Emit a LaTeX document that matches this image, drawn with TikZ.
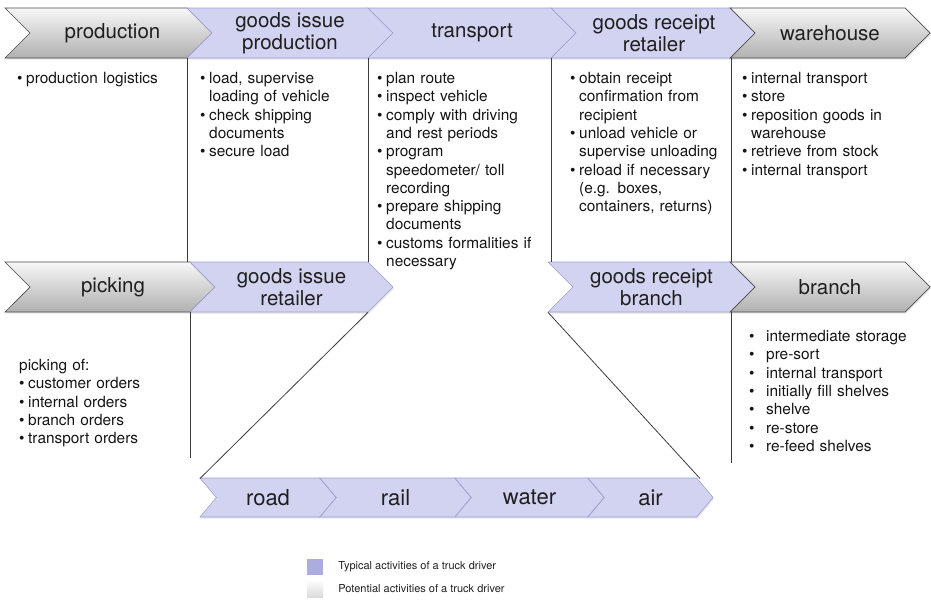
\documentclass[tikz,border=0pt]{standalone}
\usepackage{fontspec}
\setmainfont{TeX Gyre Heros}
\usetikzlibrary{shapes.symbols,positioning,shadows}

\definecolor{typfill}{RGB}{210,210,241}
\definecolor{typline}{RGB}{160,160,212}
\definecolor{typkey}{RGB}{172,172,226}
\definecolor{sepline}{RGB}{60,60,60}

\newcommand{\bul}{\par\noindent\hangindent=9pt\hangafter=1\makebox[9pt][l]{\textbullet}}
\newcommand{\wbul}{\par\noindent\hangindent=17pt\hangafter=1\makebox[17pt][l]{\textbullet}}
\newcommand{\nl}{\hfil\break}

\begin{document}
\begin{tikzpicture}[x=1pt, y=-1pt,
    chev/.style={signal, signal from=west, signal to=east, signal pointer angle=90, minimum height=50pt, inner sep=0pt, align=center, font=\fontsize{20.5}{22}\selectfont, text=black!88, drop shadow={opacity=0.2, shadow xshift=1pt, shadow yshift=-1.5pt}},
    typical/.style={chev, fill=typfill, draw=typline, line width=0.6pt},
    potential/.style={chev, top color=gray!6, bottom color=gray!62, draw=gray!60!black, line width=0.7pt},
    mode/.style={typical, signal pointer angle=100, minimum height=39pt, font=\fontsize{22}{24}\selectfont},
    tasks/.style={anchor=north west, inner sep=0pt, text width=185pt, align=left, font=\fontsize{15.4}{18.3}\selectfont, text=black!92},
    sep/.style={draw=sepline, line width=0.8pt},
    legkey/.style={minimum size=16pt, inner sep=0pt},
    legtext/.style={font=\fontsize{11}{13}\selectfont, inner sep=0pt, text=black!88},
]
\useasboundingbox (0,0) rectangle (931,605);

% ====== Top row ======
\node[potential, minimum width=207pt] (prod) at (108.5,33) {\hspace*{8pt}production};
\node[typical, minimum width=206pt] (gip) at (290,33) {goods issue\\production};
\node[typical, minimum width=208pt] (trans) at (472,33) {transport};
\node[typical, minimum width=206pt] (grr) at (654,33) {goods receipt\\retailer};
\node[potential, minimum width=200pt] (wh) at (830,33) {warehouse};

% ====== Second row ======
\node[potential, minimum width=210pt] (pick) at (110,287) {\hspace*{6pt}picking};
\node[typical, minimum width=203pt] (gir) at (291.5,287) {goods issue\\retailer};
\node[typical, minimum width=207pt] (grb) at (651.5,287) {goods receipt\\branch};
\node[potential, minimum width=200pt] (branch) at (830,287) {branch};

% ====== Transport modes ======
\node[mode, minimum width=136pt] (road) at (268,497.5) {road};
\node[mode, minimum width=151pt] (rail) at (395.5,497.5) {rail};
\node[mode, minimum width=149pt] (water) at (529.5,497.5) {water};
\node[mode, minimum width=125pt] (air) at (650.5,497.5) {air};

% ====== Separators ======
\coordinate (b1) at (187,0);
\coordinate (b2) at (368,0);
\coordinate (b3) at (551,0);
\coordinate (b4) at (731,0);
\coordinate (b6) at (548,0);
\coordinate (pend) at (190,458);
\coordinate (bend) at (731,463);
\coordinate (roadtl) at (200,478.5);
\coordinate (airtr) at (700,478.5);

\foreach \b in {b1,b2,b3,b4}
  \draw[sep] (\b |- prod.south) -- (\b |- pick.north);
\draw[sep] (pick.south -| pend) -- (pend);
\draw[sep] (branch.south -| bend) -- (bend);
\draw[sep] (gir.south -| b2) -- (roadtl);
\draw[sep] (grb.south -| b6) -- (airtr);

% ====== Activities ======
\node[tasks] (tprod) at (17,65) {\bul production logistics\par};
\node[tasks] (tgip) at (200,65) {\bul load, supervise\nl loading of vehicle
  \bul check shipping\nl documents
  \bul secure load\par};
\node[tasks] (ttrans) at (377,65) {\bul plan route
  \bul inspect vehicle
  \bul comply with driving\nl and rest periods
  \bul program\nl speedometer/ toll\nl recording
  \bul prepare shipping\nl documents
  \bul customs formalities if\nl necessary\par};
\node[tasks] (tgrr) at (570,65) {\bul obtain receipt\nl confirmation from\nl recipient
  \bul unload vehicle or\nl supervise unloading
  \bul reload if necessary\nl (e.g. boxes,\nl containers, returns)\par};
\node[tasks] (twh) at (742,65) {\bul internal transport
  \bul store
  \bul reposition goods in\nl warehouse
  \bul retrieve from stock
  \bul internal transport\par};
\node[tasks] (tpick) at (19,359) {picking of:
  \bul customer orders
  \bul internal orders
  \bul branch orders
  \bul transport orders\par};
\node[tasks] (tbranch) at (749,323) {\wbul intermediate storage
  \wbul pre-sort
  \wbul internal transport
  \wbul initially fill shelves
  \wbul shelve
  \wbul re-store
  \wbul re-feed shelves\par};

% ====== Legend ======
\node[legkey, fill=typkey] (keytyp) at (315,567) {};
\node[legkey, top color=gray!3, bottom color=gray!28] (keypot) at (315,589) {};
\node[legtext, right=15pt of keytyp] (ltyp) {Typical activities of a truck driver};
\node[legtext, right=15pt of keypot] (lpot) {Potential activities of a truck driver};

\end{tikzpicture}
\end{document}
